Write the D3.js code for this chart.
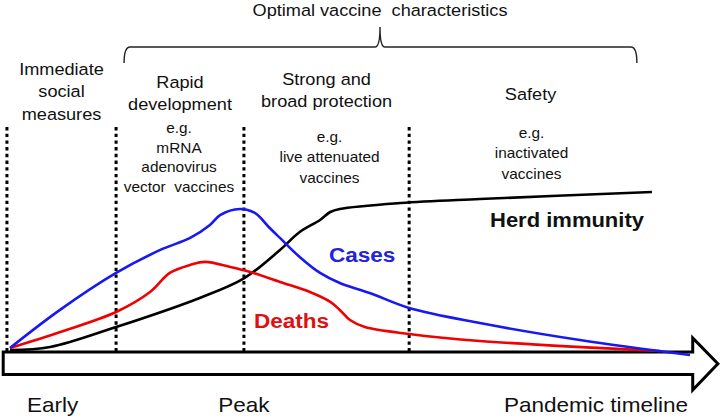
<!DOCTYPE html>
<html>
<head>
<meta charset="utf-8">
<script src="https://cdn.jsdelivr.net/npm/d3@7"></script>
<style>
  body { margin: 0; background: #fff; }
  text { font-family: "Liberation Sans", Arial, sans-serif; fill: #111; }
</style>
</head>
<body>
<div id="chart"></div>
<script>
// timeline in arbitrary units (0 = outbreak, 100 = end of drawn period), level 0-100
const casesTime   = [0, 7.35, 15.6, 22.1, 26.5, 29.4, 30.9, 33.8, 36.0, 38.2, 39.7, 42.6, 45.6, 48.5, 52.9, 58.7, 69.1, 83.8, 100]
const casesLevel  = [2.5, 26.3, 49.4, 63.8, 71.3, 79.4, 85.6, 89.4, 86.9, 77.5, 71.3, 59.4, 49.4, 43.1, 36.9, 27.5, 18.1, 7.5, -1.9]
const deathsTime  = [0, 7.4, 15.6, 20.6, 23.5, 26.5, 28.7, 32.4, 35.3, 39.7, 44.1, 47.1, 48.5, 50, 52.2, 58.7, 69.1, 95.6]
const deathsLevel = [2.5, 12.5, 25, 37.5, 49.4, 54.4, 56.3, 53.1, 50, 43.8, 37.5, 31.3, 26.3, 20, 15.6, 11.3, 6.9, 0.6]
const herdTime    = [0, 5.9, 15.6, 27.9, 34.4, 39.7, 42.6, 45.6, 47.1, 48.5, 57.4, 69.1, 94.4]
const herdLevel   = [1.2, 3.1, 15.6, 33.8, 46, 63.8, 75, 82.5, 87.5, 89.4, 93.1, 95.6, 100]

const dividers = [-0.45, 15.6, 34.4, 58.7]
const phaseEnd = 94.4
const phaseTitles = [
  ['Immediate', 'social', 'measures'],
  ['Rapid', 'development'],
  ['Strong and', 'broad protection'],
  ['Safety']
]
const phaseExamples = [
  [],
  ['e.g.', 'mRNA', 'adenovirus', 'vector  vaccines'],
  ['e.g.', 'live attenuated', 'vaccines'],
  ['e.g.', 'inactivated', 'vaccines']
]
const bracketTitle = 'Optimal vaccine  characteristics'
const timelineLabels = ['Early', 'Peak', 'Pandemic timeline']

const width = 720, height = 418
const stretch = 1.1   // the original lettering is slightly wide

const svg = d3.select('#chart').append('svg')
  .attr('width', width).attr('height', height)

let x = d3.scaleLinear().domain([0, 100]).range([10, 690])
let y = d3.scaleLinear().domain([0, 100]).range([352, 192])

function label(px, py, lines, opts) {
  let g = svg.append('g').attr('transform', `translate(${px},${py}) scale(${stretch},1)`)
  let t = g.append('text')
    .attr('text-anchor', opts.anchor || 'middle')
    .attr('font-size', opts.size)
    .attr('font-weight', opts.bold ? 'bold' : null)
    .style('white-space', 'pre')
  if (opts.color) t.style('fill', opts.color)
  lines.forEach((s, j) => {
    t.append('tspan').attr('x', 0).attr('y', j * (opts.gap || 0)).text(s)
  })
}

// timeline arrow
let arrowTop = y(0), arrowBottom = 374.5
let bodyEnd = x(100.4), tip = x(104.1), left = x(-1)
svg.append('path')
  .attr('d', `M${left},${arrowTop} H${bodyEnd} V${338} L${tip},${(arrowTop + arrowBottom) / 2 + 0.5} L${bodyEnd},${390} V${arrowBottom} H${left} Z`)
  .attr('fill', '#fff')
  .attr('stroke', '#000')
  .attr('stroke-width', 3)
  .attr('stroke-linejoin', 'miter')

// dotted phase dividers
svg.selectAll('.divider')
  .data(dividers)
  .enter().append('line')
  .attr('class', 'divider')
  .attr('x1', d => x(d)).attr('x2', d => x(d))
  .attr('y1', 127).attr('y2', arrowTop - 1)
  .attr('stroke', '#000')
  .attr('stroke-width', 3)
  .attr('stroke-dasharray', '3.4,3.3')

// curves
let line = d3.line()
  .x(d => x(d[0]))
  .y(d => y(d[1]))
  .curve(d3.curveCatmullRom.alpha(0.5))

let series = [
  {t: herdTime, v: herdLevel, color: '#000'},
  {t: deathsTime, v: deathsLevel, color: '#f00000'},
  {t: casesTime, v: casesLevel, color: '#1818f0'}
]
series.forEach(s => {
  svg.append('path')
    .datum(d3.zip(s.t, s.v))
    .attr('fill', 'none')
    .attr('stroke', s.color)
    .attr('stroke-width', 2.6)
    .attr('d', line)
})

// curve labels
label(490, 227, ['Herd immunity'], {anchor: 'start', size: 20, bold: true})
label(329, 262, ['Cases'], {anchor: 'start', size: 20.5, bold: true, color: '#2222e0'})
label(254, 328, ['Deaths'], {anchor: 'start', size: 20.5, bold: true, color: '#e01010'})

// phase headings and examples
let bounds = dividers.concat([phaseEnd])
phaseTitles.forEach((lines, i) => {
  let cx = (x(bounds[i]) + x(bounds[i + 1])) / 2
  label(cx, [75, 88, 85, 100][i], lines, {size: 16.5, gap: 22.3})
})
phaseExamples.forEach((lines, i) => {
  if (!lines.length) return
  let cx = (x(bounds[i]) + x(bounds[i + 1])) / 2 + [0, -1, 3, 1][i]
  label(cx, [0, 133, 142, 138][i], lines, {size: 14, gap: [0, 19.6, 20.5, 20.5][i]})
})

// brace over the vaccine phases
let bl = x(dividers[1]) + 8, br = x(phaseEnd) - 15, bm = 380, by = 47
svg.append('path')
  .attr('d', `M${bl},63 Q${bl},${by} ${bl + 6},${by} H${bm - 5} Q${bm},${by} ${bm},${by - 20} Q${bm},${by} ${bm + 5},${by} H${br - 6} Q${br},${by} ${br},63`)
  .attr('fill', 'none')
  .attr('stroke', '#222')
  .attr('stroke-width', 1.4)
label(bm, 16, [bracketTitle], {size: 16.5})

// timeline labels
label(x(2.5), 412, [timelineLabels[0]], {anchor: 'start', size: 20.5})
label(x(dividers[2]), 412, [timelineLabels[1]], {size: 20.5})
label(688, 412, [timelineLabels[2]], {anchor: 'end', size: 20.5})
</script>
</body>
</html>
